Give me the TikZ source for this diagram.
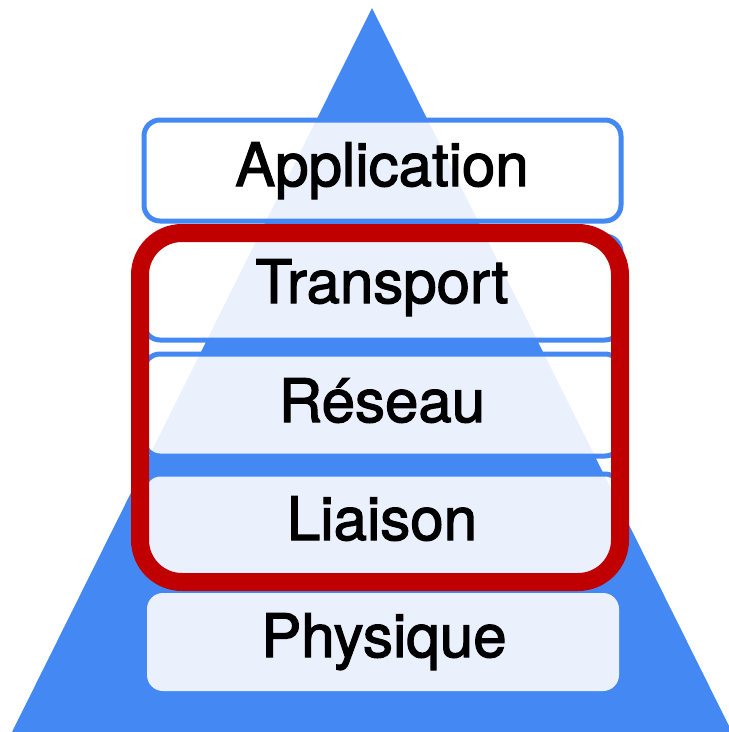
\documentclass[tikz,border=0pt]{standalone}
\usepackage{fontspec}
\setmainfont{TeX Gyre Heros}[FakeBold=2]
\definecolor{pyrblue}{RGB}{68,136,244}
\definecolor{pyrred}{RGB}{192,0,0}
\begin{document}
\begin{tikzpicture}[x=1pt,y=-1pt,
  layer/.style={draw=pyrblue,line width=5pt,rounded corners=16pt,fill=white,fill opacity=0.89},
  lbl/.style={anchor=base,inner sep=0pt,font=\fontsize{60}{70}\selectfont}]
\clip (0,0) rectangle (729,732);
\fill[white] (0,0) rectangle (729,732);
\fill[pyrblue] (372,8)--(732,732)--(12,732)--cycle;
\draw[layer] (144,120) rectangle (621,221);
\draw[layer] (144,236) rectangle (621,340);
\draw[layer] (144,354) rectangle (621,456);
\draw[layer] (144,474) rectangle (621,578);
\draw[layer,draw=none] (147,593) rectangle (619,691);
\node[lbl] (app) at (382,186) {Application};
\node[lbl] (trans) at (382,303) {Transport};
\node[lbl] (res) at (382,422) {Réseau};
\node[lbl] (liai) at (382,540) {Liaison};
\node[lbl] (phys) at (384,657) {Physique};
\draw[pyrred,line width=18pt,rounded corners=42pt] (140,233) rectangle (620,582);
\end{tikzpicture}
\end{document}
